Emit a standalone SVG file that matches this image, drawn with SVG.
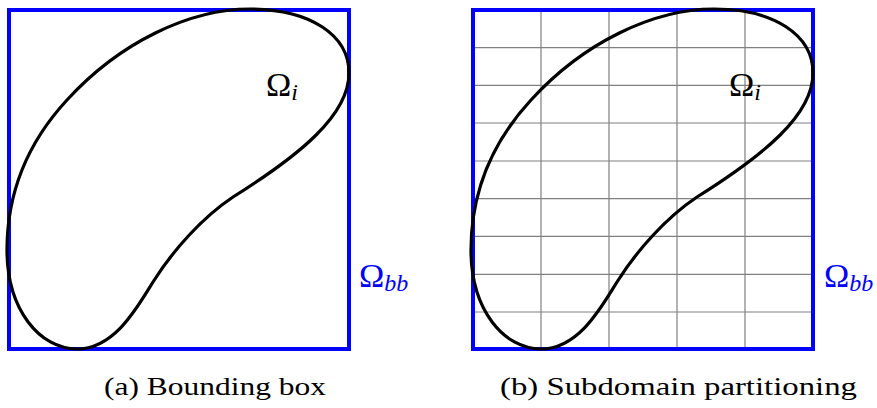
<svg xmlns="http://www.w3.org/2000/svg" width="877" height="408" viewBox="0 0 877 408">
<style>
.bb{fill:none;stroke:#0000ff;stroke-width:4}
.blob{fill:none;stroke:#000;stroke-width:3.2}
.grid{stroke:#808080;stroke-width:1.2;fill:none}
text{font-family:'Liberation Serif','Times New Roman',Times,'DejaVu Serif','Noto Serif',serif}
.om{font-size:34px}
.sub{font-size:24px;font-style:italic}
.cap{font-size:26px}
</style>
<defs>
<path id="blobpath" d="M250,9 C310,9 349,35 349,73 C349,115 300,155 233,197 C203,217 173,250 153,282 C138,306 115,349 77,349 C40,349 7,310 7,250 C7,190 30,140 67,100 C120,42 190,9 250,9 Z"/>
</defs>
<g id="panel-a">
<g id="bbox-a"><rect class="bb" x="9" y="10" width="340" height="339"/></g>
<g id="domain-a"><use href="#blobpath" class="blob"/></g>
<text class="om" x="266" y="96">Ω<tspan class="sub" dy="4">i</tspan></text>
<text class="om" x="359" y="287" fill="#0000ff">Ω<tspan class="sub" dy="4">bb</tspan></text>
<text class="cap" x="104" y="395" textLength="222" lengthAdjust="spacingAndGlyphs">(a) Bounding box</text>
</g>
<g id="panel-b">
<g id="grid-b" class="grid">
<path d="M541,10V349M609,10V349M677,10V349M745,10V349"/>
<path d="M473,47.7H813M473,85.3H813M473,123H813M473,161H813M473,198.7H813M473,236.3H813M473,274.3H813M473,312H813"/>
</g>
<g id="bbox-b"><rect class="bb" x="473" y="10" width="340" height="339"/></g>
<g id="domain-b"><use href="#blobpath" class="blob" transform="translate(464,0)"/></g>
<text class="om" x="729" y="96">Ω<tspan class="sub" dy="4">i</tspan></text>
<text class="om" x="824" y="287" fill="#0000ff">Ω<tspan class="sub" dy="4">bb</tspan></text>
<text class="cap" x="500" y="395" textLength="357" lengthAdjust="spacingAndGlyphs">(b) Subdomain partitioning</text>
</g>
<g id="connectors"/>
</svg>
